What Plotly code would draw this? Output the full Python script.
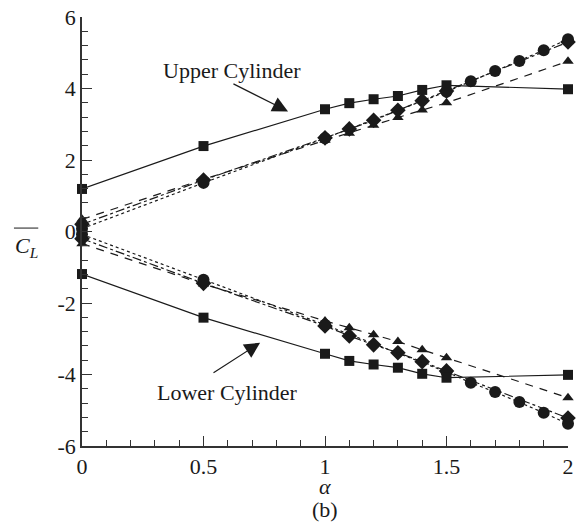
"""Mean lift coefficient of the upper and lower cylinders against alpha."""

import plotly.graph_objects as go

FONT = "Liberation Serif"

# squares, solid line
alpha_sq = [0, 0.5, 1, 1.1, 1.2, 1.3, 1.4, 1.5, 2]
upper_sq = [1.19, 2.39, 3.42, 3.59, 3.70, 3.79, 3.96, 4.09, 3.98]
lower_sq = [-1.19, -2.41, -3.42, -3.62, -3.72, -3.81, -3.98, -4.09, -4.01]

# circles, dotted line
alpha_ci = [0, 0.5, 1, 1.5, 1.6, 1.7, 1.8, 1.9, 2]
upper_ci = [0.08, 1.36, 2.61, 3.91, 4.20, 4.49, 4.77, 5.07, 5.38]
lower_ci = [-0.08, -1.35, -2.61, -3.93, -4.23, -4.49, -4.77, -5.07, -5.38]

# diamonds, dash-dot line
alpha_di = [0, 0.5, 1, 1.1, 1.2, 1.3, 1.4, 1.5, 2]
upper_di = [0.2, 1.44, 2.62, 2.87, 3.11, 3.39, 3.66, 3.93, 5.30]
lower_di = [-0.2, -1.45, -2.64, -2.92, -3.17, -3.39, -3.64, -3.90, -5.22]

# triangles, dashed line
alpha_tr = [0, 0.5, 1, 1.1, 1.2, 1.3, 1.4, 1.5, 2]
upper_tr = [0.34, 1.46, 2.55, 2.75, 2.97, 3.19, 3.40, 3.60, 4.76]
lower_tr = [-0.34, -1.47, -2.50, -2.69, -2.89, -3.08, -3.31, -3.53, -4.65]

x_ticks = [0, 0.5, 1, 1.5, 2]
x_ticktext = ["0", "0.5", "1", "1.5", "2"]
y_ticks = [-6, -4, -2, 0, 2, 4, 6]
y_ticktext = ["-6", "-4", "-2", "0", "2", "4", "6"]

INK = "#1a1a1a"

series = [
    (alpha_tr, upper_tr, lower_tr, "triangle-up", 10, "8px,7px"),
    (alpha_di, upper_di, lower_di, "diamond", 12, "dashdot"),
    (alpha_ci, upper_ci, lower_ci, "circle", 12, "dot"),
    (alpha_sq, upper_sq, lower_sq, "square", 10, "solid"),
]

fig = go.Figure()
for xs, up, lo, symbol, size, dash in series:
    for ys in (up, lo):
        fig.add_trace(
            go.Scatter(
                x=xs,
                y=ys,
                mode="lines+markers",
                line=dict(color=INK, width=1.2, dash=dash),
                marker=dict(symbol=symbol, size=size, color=INK),
                showlegend=False,
                cliponaxis=False,
            )
        )

arrow = dict(
    xref="x", yref="y", axref="x", ayref="y",
    showarrow=True, arrowhead=2, arrowsize=2.6, arrowwidth=1.2,
    arrowcolor=INK, text="",
)
fig.add_annotation(x=0.848, y=3.36, ax=0.617, ay=4.15, **arrow)
fig.add_annotation(x=0.733, y=-3.11, ax=0.535, ay=-3.98, **arrow)

label_font = dict(family=FONT, size=22, color=INK)
centred = dict(showarrow=False, xanchor="center", yanchor="middle", font=label_font)
fig.add_annotation(x=0.617, y=4.49, text="Upper Cylinder", xref="x", yref="y", **centred)
fig.add_annotation(x=0.60, y=-4.51, text="Lower Cylinder", xref="x", yref="y", **centred)

# y title: C_L with an overbar
fig.add_annotation(x=-0.115, y=0.465, xref="paper", yref="paper",
                   text="<i>C</i><sub><i>L</i></sub>", **centred)
fig.add_shape(type="line", xref="paper", yref="paper",
              x0=-0.14, x1=-0.09, y0=0.508, y1=0.508,
              line=dict(color=INK, width=1))

fig.add_annotation(x=0.5, y=-0.094, xref="paper", yref="paper",
                   text="<i>α</i>", **centred)
fig.add_annotation(x=0.5, y=-0.148, xref="paper", yref="paper",
                   text="(b)", **centred)

axis_common = dict(
    showline=True, linecolor="#333333", linewidth=1.5,
    ticks="inside", ticklen=10, tickwidth=1.2, tickcolor="#333333",
    showgrid=False, zeroline=False, mirror=False, automargin=False,
    ticklabeloverflow="allow",
    tickfont=dict(family=FONT, size=22, color=INK),
)

# page body keeps its default 8px margin, so the figure is 8px smaller
fig.update_layout(
    width=578,
    height=515,
    margin=dict(l=74, r=18, t=9, b=77),
    plot_bgcolor="white",
    paper_bgcolor="white",
    font=dict(family=FONT, size=22, color=INK),
    xaxis=dict(
        range=[0, 2], tickvals=x_ticks, ticktext=x_ticktext,
        minor=dict(dtick=0.1, ticks="inside", ticklen=6, tickcolor="#333333"),
        **axis_common,
    ),
    yaxis=dict(
        range=[-6, 6], tickvals=y_ticks, ticktext=y_ticktext,
        minor=dict(dtick=0.4, ticks="inside", ticklen=6, tickcolor="#333333"),
        **axis_common,
    ),
)

fig.write_html("out.html")
